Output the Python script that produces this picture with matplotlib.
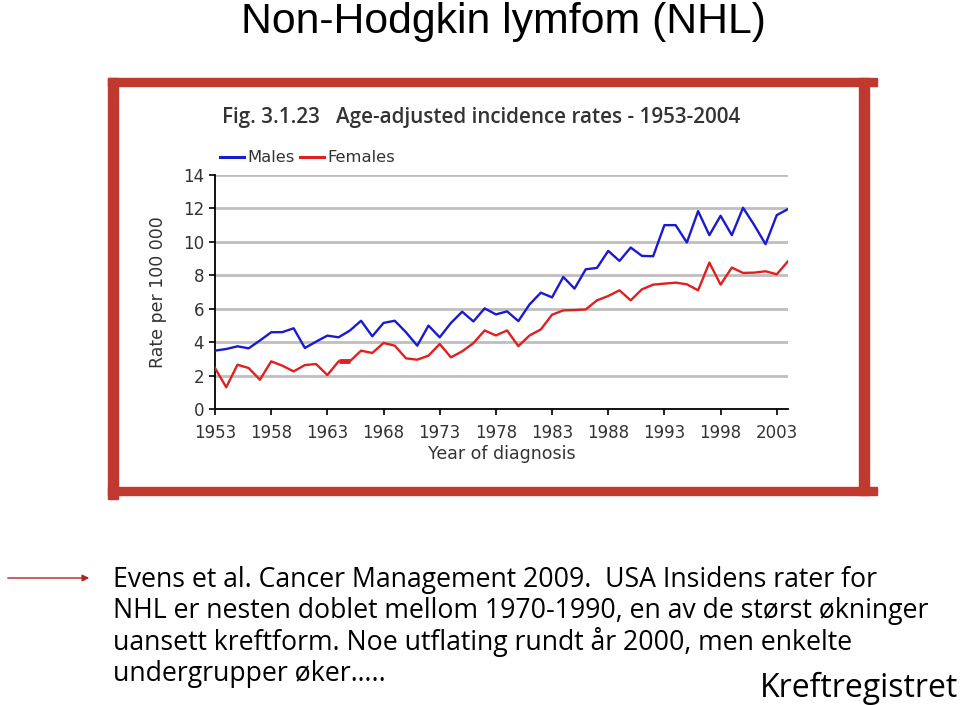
import matplotlib
matplotlib.use("Agg")
import matplotlib.pyplot as plt
from matplotlib.patches import Rectangle, FancyArrowPatch
from matplotlib.lines import Line2D

years = list(range(1953, 2005))
males = [3.49, 3.59, 3.75, 3.63, 4.10, 4.59, 4.60, 4.83, 3.65, 4.03,
         4.39, 4.29, 4.69, 5.28, 4.35, 5.15, 5.28, 4.59, 3.79, 4.99,
         4.29, 5.15, 5.82, 5.24, 6.02, 5.66, 5.84, 5.26, 6.26, 6.96,
         6.68, 7.90, 7.20, 8.36, 8.44, 9.46, 8.86, 9.66, 9.16, 9.14,
         11.0, 11.0, 9.96, 11.84, 10.40, 11.56, 10.40, 12.04, 11.00, 9.86,
         11.60, 11.96]
females = [2.45, 1.30, 2.65, 2.45, 1.75, 2.85, 2.59, 2.25, 2.63, 2.69,
           2.03, 2.85, 2.85, 3.49, 3.35, 3.95, 3.79, 3.03, 2.95, 3.19,
           3.89, 3.09, 3.45, 3.94, 4.70, 4.40, 4.70, 3.76, 4.40, 4.76,
           5.64, 5.90, 5.92, 5.96, 6.50, 6.76, 7.10, 6.50, 7.16, 7.44,
           7.50, 7.56, 7.46, 7.10, 8.76, 7.44, 8.46, 8.14, 8.16, 8.24,
           8.06, 8.84]
yticks = [0, 2, 4, 6, 8, 10, 12, 14]
xticks = [1953, 1958, 1963, 1968, 1973, 1978, 1983, 1988, 1993, 1998, 2003]

W, H = 960, 705
fig = plt.figure(figsize=(W / 100, H / 100), dpi=100)
fig.patch.set_facecolor("white")

def fx(x):
    return x / W

def fy(y):
    return 1 - y / H

# Slide title
fig.text(fx(503), fy(22), "Non-Hodgkin lymfom (NHL)", ha="center", va="center",
         fontsize=30.8, family="Liberation Sans", color="black")

# Red frame
frame_c = "#C0392E"
def prect(x0, y0, x1, y1):
    fig.patches.append(Rectangle((fx(x0), fy(y1)), fx(x1) - fx(x0), fy(y0) - fy(y1),
                                 transform=fig.transFigure, color=frame_c, zorder=5))
prect(108, 78, 877, 86)     # top
prect(108, 78, 118, 499)    # left
prect(859, 78, 869, 495)    # right
prect(108, 487, 877, 495)   # bottom

# Chart caption
fig.text(fx(222), fy(118), "Fig. 3.1.23   Age-adjusted incidence rates - 1953-2004",
         ha="left", va="center", fontsize=14.9, family="Open Sans", fontweight="semibold",
         color="#333333")

# Axes
ax = fig.add_axes([fx(215), fy(409), fx(788) - fx(215), fy(175) - fy(409)])
ax.set_xlim(1953, 2004)
ax.set_ylim(0, 14)
for v in yticks[1:]:
    ax.axhline(v, color="#BEBEBE", lw=2.0, zorder=1)
ax.plot(years, males, color="#1A1AD0", lw=1.7, zorder=3)
ax.plot(years, females, color="#E02020", lw=1.7, zorder=3)
ax.plot(years[11:13], females[11:13], color="#E02020", lw=3.5, zorder=3,
        solid_capstyle="butt")
for s in ["top", "right"]:
    ax.spines[s].set_visible(False)
for s in ["left", "bottom"]:
    ax.spines[s].set_color("black")
    ax.spines[s].set_linewidth(1.3)
ax.set_yticks(yticks)
ax.set_xticks(xticks)
ax.tick_params(axis="both", labelsize=12, colors="black", labelcolor="#333333",
               length=4, width=1.2, direction="out")
ax.tick_params(axis="x", pad=7)
ax.tick_params(axis="y", pad=4)
for lab in ax.get_xticklabels() + ax.get_yticklabels():
    lab.set_family("DejaVu Sans")
ax.set_ylabel("Rate per 100 000", fontsize=12.5, family="DejaVu Sans", color="#333333",
              labelpad=11)
ax.set_xlabel("Year of diagnosis", fontsize=12.5, family="DejaVu Sans", color="#333333",
              labelpad=2)

handles = [Line2D([], [], color="#1A1AD0", lw=2.2), Line2D([], [], color="#E02020", lw=2.2)]
fig.legend(handles, ["Males", "Females"], loc="center left",
           bbox_to_anchor=(fx(205), fy(158)), ncol=2, frameon=False,
           prop={"family": "DejaVu Sans", "size": 11.8}, handlelength=1.5,
           handletextpad=0.2, columnspacing=0.3, labelcolor="#333333")

# Arrow
fig.patches.append(FancyArrowPatch((fx(5), fy(578)), (fx(92), fy(578)),
                                   transform=fig.transFigure, arrowstyle="-|>",
                                   mutation_scale=10, color="#B22222", lw=1.0))

# Body text
lines = ["Evens et al. Cancer Management 2009.  USA Insidens rater for",
         "NHL er nesten doblet mellom 1970-1990, en av de størst økninger",
         "uansett kreftform. Noe utflating rundt år 2000, men enkelte",
         "undergrupper øker….."]
ys = [580, 611, 642, 674]
for t, y in zip(lines, ys):
    fig.text(fx(113), fy(y), t, ha="left", va="center", fontsize=19.2,
             family="Open Sans", color="black")
fig.text(fx(958), fy(688), "Kreftregistret", ha="right", va="center", fontsize=23,
         family="Open Sans", color="black")

fig.savefig("out.png", dpi=100)
